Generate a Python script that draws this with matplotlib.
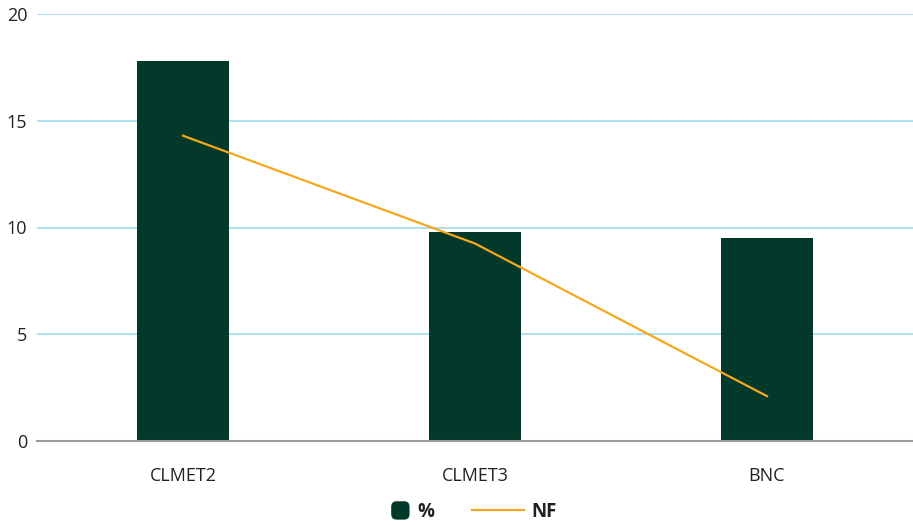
import matplotlib
matplotlib.use("Agg")
import matplotlib.pyplot as plt
from matplotlib.lines import Line2D
from matplotlib.patches import FancyBboxPatch
from matplotlib.legend_handler import HandlerPatch

categories = ["CLMET2", "CLMET3", "BNC"]
pct_values = [17.8, 9.8, 9.5]
nf_values = [14.3, 9.25, 2.1]
y_ticks = [0, 5, 10, 15, 20]

BAR_COLOR = "#03392a"
LINE_COLOR = "#f5a81c"
GRID_COLOR = "#9fdcef"
TEXT_COLOR = "#222222"

plt.rcParams["font.family"] = ["Open Sans", "DejaVu Sans"]

fig = plt.figure(figsize=(9.13, 5.25), dpi=100)
ax = fig.add_axes([37 / 913, 1 - 441 / 525, 876 / 913, (441 - 14) / 525])

x = list(range(len(categories)))
ax.bar(x, pct_values, width=0.315, color=BAR_COLOR, zorder=2, label="%")
ax.plot(x, nf_values, color=LINE_COLOR, linewidth=1.6, zorder=3, label="NF")

ax.set_xlim(-0.5, 2.5)
ax.set_ylim(0, 20)
ax.set_yticks(y_ticks)
ax.set_yticklabels([str(v) for v in y_ticks])
ax.set_xticks(x)
ax.set_xticklabels(categories)

ax.grid(axis="y", color=GRID_COLOR, linewidth=1.2, zorder=0)
ax.set_axisbelow(True)
for side in ("top", "right", "left"):
    ax.spines[side].set_visible(False)
ax.spines["bottom"].set_color("#9a9a9a")
ax.spines["bottom"].set_linewidth(1.5)
ax.spines["bottom"].set_zorder(4)
ax.tick_params(axis="both", length=0, labelsize=13, colors=TEXT_COLOR)
ax.tick_params(axis="y", pad=7)
ax.tick_params(axis="x", pad=19)


class RoundedSquareHandler(HandlerPatch):
    def create_artists(self, legend, orig_handle, xdescent, ydescent,
                       width, height, fontsize, trans):
        s = height * 1.4
        cx = -xdescent + width - s / 2
        cy = -ydescent + height / 2
        p = FancyBboxPatch((cx - s / 2, cy - s / 2), s, s,
                           boxstyle="round,pad=0,rounding_size=%f" % (s * 0.3),
                           facecolor=BAR_COLOR, edgecolor="none",
                           transform=trans)
        return [p]


bar_handle = plt.Rectangle((0, 0), 1, 1, color=BAR_COLOR)
line_handle = Line2D([0], [0], color=LINE_COLOR, linewidth=1.6)
leg = fig.legend([bar_handle, line_handle], ["%", "NF"],
                 loc="center", bbox_to_anchor=(457 / 913, 1 - 512 / 525),
                 ncol=2, frameon=False, handlelength=2.8, columnspacing=2.0,
                 handletextpad=0.4,
                 handler_map={bar_handle: RoundedSquareHandler()},
                 prop={"weight": "bold", "size": 13.5})
for t in leg.get_texts():
    t.set_color(TEXT_COLOR)

fig.savefig("out.png", dpi=100)
